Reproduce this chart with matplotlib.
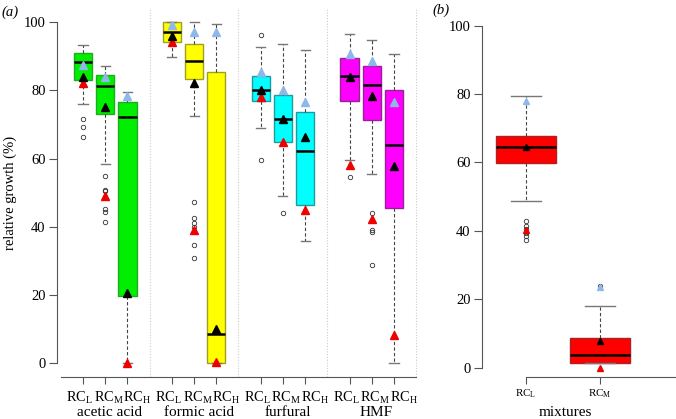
import numpy as np
import matplotlib
matplotlib.use('Agg')
import matplotlib.pyplot as plt

plt.rcParams['font.family'] = ['Liberation Serif', 'DejaVu Serif']
plt.rcParams['mathtext.fontset'] = 'custom'
plt.rcParams['mathtext.rm'] = 'Liberation Serif'
plt.rcParams['mathtext.it'] = 'Liberation Serif:italic'

# panel (a): single inhibitors, three conditions each
groups = ['acetic acid', 'formic acid', 'furfural', 'HMF']
conditions = ['L', 'M', 'H']
colours = ['#00ee00', '#ffff00', '#00ffff', '#ff00ff']
edges = ['#22aa22', '#a0a020', '#209a9a', '#9a209a']

whislo = [76.0, 58.3, 0.0, 89.7, 72.6, 0.0, 68.9, 49.0, 35.7, 59.6, 55.4, 0.0]
q1 = [83.1, 73.1, 19.7, 94.3, 83.3, 0.1, 76.9, 65.0, 46.3, 77.0, 71.2, 45.4]
med = [88.3, 81.3, 72.3, 97.1, 88.7, 8.5, 80.2, 71.7, 62.2, 84.3, 81.7, 63.9]
q3 = [90.9, 84.4, 76.5, 100.0, 93.6, 85.3, 84.1, 78.8, 73.6, 89.5, 87.1, 80.2]
whishi = [93.3, 87.1, 79.6, 100.0, 100.0, 99.6, 92.9, 93.6, 91.8, 96.7, 94.8, 90.6]
fliers = [[71.6, 69.2, 66.2],
          [54.9, 50.8, 50.4, 45.2, 44.2, 41.5],
          [],
          [],
          [47.2, 42.5, 41.1, 40.0, 34.6, 30.7],
          [],
          [96.2, 59.5],
          [43.9],
          [],
          [54.6],
          [44.0, 39.0, 38.4, 28.6],
          []]
tri_blue = [87.6, 83.8, 78.3, 99.1, 97.1, 97.2, 85.4, 80.2, 76.6, 90.6, 88.7, 76.5]
tri_black = [84.0, 75.2, 20.4, 96.0, 82.3, 10.0, 80.0, 71.5, 66.4, 83.9, 78.3, 57.9]
tri_red = [82.2, 49.1, 0.0, 94.1, 39.0, 0.3, 78.1, 65.0, 44.9, 58.1, 42.3, 8.1]

# panel (b): mixtures
mix_labels = ['L', 'M']
mix_whislo = [48.7, 1.4]
mix_q1 = [59.7, 1.4]
mix_med = [64.4, 3.6]
mix_q3 = [67.8, 8.6]
mix_whishi = [79.5, 17.9]
mix_fliers = [[43.0, 41.5, 40.5, 39.5, 38.5, 37.3], [23.8]]
mix_blue = [77.9, 23.5]
mix_black = [64.5, 7.9]
mix_red = [40.1, 0.0]

W, H = 676, 419
fig = plt.figure(figsize=(W / 100, H / 100), dpi=100)
axA = fig.add_axes([56.7 / W, 1 - 376.5 / H, (419.5 - 56.7) / W, (376.5 - 8.7) / H])
axB = fig.add_axes([481.7 / W, 1 - 376.5 / H, (W - 481.7) / W, (376.5 - 12.0) / H])

spine_col = '#555555'
blue_col = '#8fb8ea'


def stats_list(lo, a, m, b, hi, fl):
    return [dict(whislo=lo[i], q1=a[i], med=m[i], q3=b[i], whishi=hi[i], fliers=fl[i])
            for i in range(len(m))]


def draw_boxes(ax, st, pos, faces, edgecols, width):
    bp = ax.bxp(st, positions=pos, widths=width, patch_artist=True, showfliers=True,
                boxprops=dict(linewidth=1.0),
                medianprops=dict(color='black', linewidth=1.8),
                whiskerprops=dict(color='#444444', linestyle=(0, (3, 2)), linewidth=0.8),
                capprops=dict(color='#777777', linewidth=1.0),
                flierprops=dict(marker='o', markersize=3.2, markerfacecolor='none',
                                markeredgecolor='#333333', markeredgewidth=0.6, linestyle='none'),
                capwidths=width * 0.5, manage_ticks=False)
    for patch, fc, ec in zip(bp['boxes'], faces, edgecols):
        patch.set_facecolor(fc)
        patch.set_edgecolor(ec)
    return bp


def draw_triangles(ax, pos, blue, black, red, ms):
    ax.plot(pos, blue, ls='none', marker='^', ms=ms, color=blue_col, zorder=4, clip_on=False)
    ax.plot(pos, red, ls='none', marker='^', ms=ms, color='#ee0000', zorder=4, clip_on=False)
    ax.plot(pos, black, ls='none', marker='^', ms=ms, color='black', zorder=5, clip_on=False)


# ---- panel (a)
posA = []
for g in range(len(groups)):
    posA += [g * 4 + 1 + k for k in range(len(conditions))]
facesA = [c for c in colours for _ in conditions]
edgesA = [e for e in edges for _ in conditions]
draw_boxes(axA, stats_list(whislo, q1, med, q3, whishi, fliers), posA, facesA, edgesA, 0.82)
draw_triangles(axA, posA, tri_blue, tri_black, tri_red, 5.3)

for x in [4, 8, 12, 16]:
    axA.axvline(x, color='#cccccc', ls=(0, (1, 1.5)), lw=0.8, zorder=0)

axA.set_xlim(-0.185, 16.15)
axA.set_ylim(-4, 104)
axA.set_yticks(range(0, 101, 20))
axA.set_xticks(posA)
axA.set_xticklabels([])
# labels are spread a little wider than the ticks, as in the original
label_shift = [-1.15, 0.15, 1.43]
xt = axA.get_xaxis_transform()
for g, name in enumerate(groups):
    centre = g * 4 + 2
    for k, c in enumerate(conditions):
        axA.text(centre + label_shift[k], -0.057, 'RC$_{\\mathrm{%s}}$' % c, transform=xt,
                 ha='center', va='center', fontsize=10.3)
    axA.text(centre + 0.2, -0.099, name, transform=xt, ha='center', va='center', fontsize=11)
axA.set_ylabel('relative growth (%)', fontsize=10.5, labelpad=5)
axA.text(-0.152, 0.99, '(a)', transform=axA.transAxes, fontsize=10.5, style='italic',
         ha='left', va='center')

# ---- panel (b)
posB = [1, 2]
draw_boxes(axB, stats_list(mix_whislo, mix_q1, mix_med, mix_q3, mix_whishi, mix_fliers),
           posB, ['#ff0000', '#ff0000'], ['#aa2222', '#aa2222'], 0.81)
draw_triangles(axB, posB, mix_blue, mix_black, mix_red, 5.0)
axB.set_xlim(0.401, 3.03)
axB.set_ylim(-2.6, 104)
axB.set_yticks(range(0, 101, 20))
axB.set_xticks(posB)
axB.set_xticklabels(['RC$_{\\mathrm{%s}}$' % c for c in mix_labels], fontsize=8)
axB.text(1.53, -0.099, 'mixtures', transform=axB.get_xaxis_transform(),
         ha='center', va='center', fontsize=11)
axB.text(-0.255, 1.005, '(b)', transform=axB.transAxes, fontsize=10.5, style='italic',
         ha='left', va='center')

for ax in (axA, axB):
    for s in ('top', 'right'):
        ax.spines[s].set_visible(False)
    ax.spines['left'].set_bounds(0, 100)
    ax.spines['left'].set_color(spine_col)
    ax.spines['bottom'].set_color(spine_col)
    ax.tick_params(axis='y', length=6, width=0.8, color=spine_col, labelsize=10.5, pad=2)
    ax.tick_params(axis='x', length=5, width=0.8, color=spine_col, pad=3)
    ax.patch.set_visible(False)
axA.spines['bottom'].set_bounds(0, 16)
axB.spines['bottom'].set_bounds(1, 3.03)

fig.savefig('out.png', dpi=100)
